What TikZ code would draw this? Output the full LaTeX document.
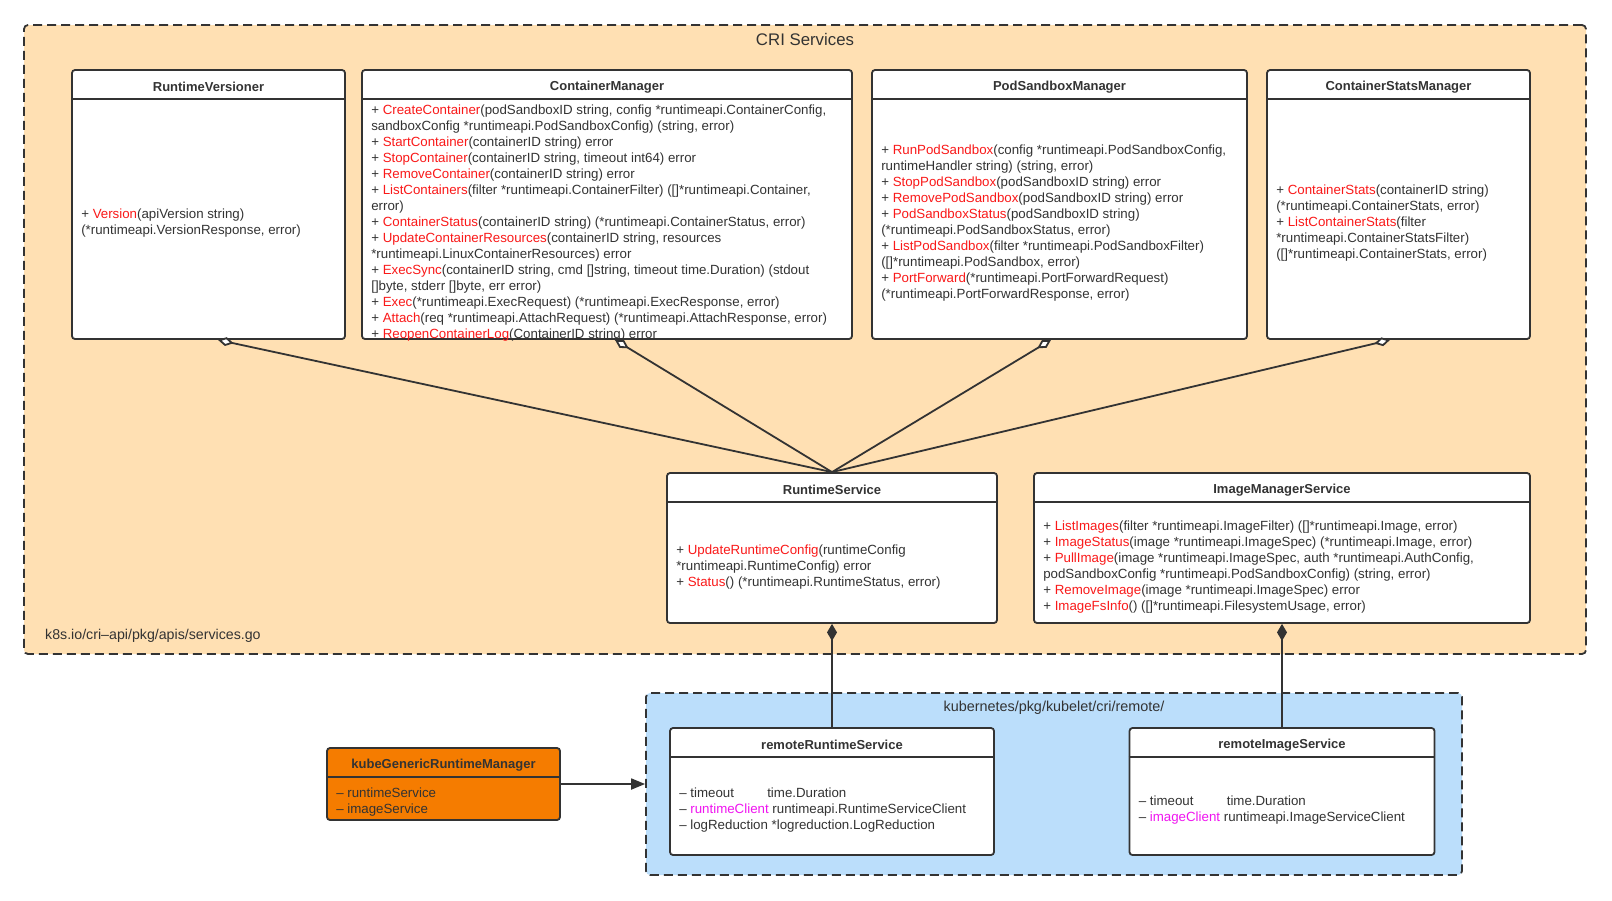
\documentclass[tikz,border=0pt]{standalone}
\usepackage{fontspec}
\setmainfont{Liberation Sans}
\usepackage{tikz}
\usetikzlibrary{arrows.meta,positioning}
\definecolor{crifill}{RGB}{255,224,179}
\definecolor{remotefill}{RGB}{187,222,251}
\definecolor{kgorange}{RGB}{245,124,0}
\definecolor{linegray}{RGB}{51,51,51}
\definecolor{fnred}{RGB}{250,25,25}
\definecolor{fldpink}{RGB}{240,20,240}
\newcommand{\mname}[1]{\textcolor{fnred}{#1}}
\newcommand{\fname}[1]{\textcolor{fldpink}{#1}}
\tikzstyle{pkgframe} = [draw=linegray, line width=1.8pt, dash pattern=on 9pt off 5pt, rounded corners=4pt, inner sep=0pt]
\tikzstyle{classbox} = [draw=linegray, line width=1.8pt, rounded corners=3pt, fill=white, inner sep=0pt]
\tikzstyle{classtitle} = [font=\fontsize{13}{16}\selectfont\bfseries, text=linegray]
\tikzstyle{classbody} = [font=\fontsize{13.3}{16}\selectfont, text=linegray, align=left, anchor=west, inner sep=0pt]
\tikzstyle{sepline} = [draw=linegray, line width=1.8pt]
\tikzstyle{aggr} = [line width=1.8pt, draw=linegray, -{Diamond[fill=white,length=16pt,width=9pt]}]
\tikzstyle{comp} = [line width=1.8pt, draw=linegray, -{Diamond[length=17pt,width=10pt]}]
\tikzstyle{dep} = [line width=1.8pt, draw=linegray, -{Triangle[length=14pt,width=11pt]}]

\begin{document}
\begin{tikzpicture}[x=1pt, y=-1pt]
\path[use as bounding box, fill=white] (0,0) rectangle (1612,900);

% package frames
\node[pkgframe, fill=crifill, minimum width=1562pt, minimum height=629pt] (cri) at (805,339.5) {};
\node[pkgframe, fill=remotefill, minimum width=816pt, minimum height=182pt] (remote) at (1054,784) {};
\node[font=\fontsize{16.8}{20}\selectfont, text=linegray] (crilabel) at ([yshift=-15pt]cri.north) {CRI Services};
\node[classbody, font=\fontsize{14.2}{16}\selectfont] (crifile) at (45,636) {k8s.io/cri–api/pkg/apis/services.go};
\node[font=\fontsize{14.4}{16}\selectfont, text=linegray] (remotelabel) at ([yshift=-16pt]remote.north) {kubernetes/pkg/kubelet/cri/remote/};

% CRI interfaces
\node[classbox, minimum width=273pt, minimum height=269pt] (rv) at (208.5,204.5) {};
\node[classbox, minimum width=490pt, minimum height=269pt] (cm) at (607,204.5) {};
\node[classbox, minimum width=375pt, minimum height=269pt] (psm) at (1059.5,204.5) {};
\node[classbox, minimum width=263pt, minimum height=269pt] (csm) at (1398.5,204.5) {};
\node[classbox, minimum width=330pt, minimum height=150pt] (rs) at (832,548) {};
\node[classbox, minimum width=496pt, minimum height=150pt] (ims) at (1282,548) {};
% remote implementations
\node[classbox, minimum width=324pt, minimum height=127pt] (rrs) at (832,791.5) {};
\node[classbox, minimum width=305pt, minimum height=127pt] (ris) at (1282,791.5) {};
% kubelet side
\node[classbox, fill=kgorange, minimum width=233pt, minimum height=72pt] (kg) at (443.5,784) {};

% headers
\foreach \b/\t in {rv/RuntimeVersioner, cm/ContainerManager, psm/PodSandboxManager, csm/ContainerStatsManager, rs/RuntimeService, ims/ImageManagerService, rrs/remoteRuntimeService, ris/remoteImageService, kg/kubeGenericRuntimeManager} {
  \draw[sepline] ([yshift=-30pt]\b.north west) -- ([yshift=-30pt]\b.north east);
  \node[classtitle] (\b-title) at ([yshift=-18pt]\b.north) {\t};
}

% members
\node[classbody] (rv-body) at ([xshift=10pt,yshift=-19pt]rv.west) {+ \mname{Version}(apiVersion string)\\(*runtimeapi.VersionResponse, error)};
\node[classbody] (cm-body) at ([xshift=10pt,yshift=-19pt]cm.west) {+ \mname{CreateContainer}(podSandboxID string, config *runtimeapi.ContainerConfig,\\
sandboxConfig *runtimeapi.PodSandboxConfig) (string, error)\\
+ \mname{StartContainer}(containerID string) error\\
+ \mname{StopContainer}(containerID string, timeout int64) error\\
+ \mname{RemoveContainer}(containerID string) error\\
+ \mname{ListContainers}(filter *runtimeapi.ContainerFilter) ([]*runtimeapi.Container,\\
error)\\
+ \mname{ContainerStatus}(containerID string) (*runtimeapi.ContainerStatus, error)\\
+ \mname{UpdateContainerResources}(containerID string, resources\\
{}*runtimeapi.LinuxContainerResources) error\\
+ \mname{ExecSync}(containerID string, cmd []string, timeout time.Duration) (stdout\\
{}[]byte, stderr []byte, err error)\\
+ \mname{Exec}(*runtimeapi.ExecRequest) (*runtimeapi.ExecResponse, error)\\
+ \mname{Attach}(req *runtimeapi.AttachRequest) (*runtimeapi.AttachResponse, error)\\
+ \mname{ReopenContainerLog}(ContainerID string) error};
\node[classbody] (psm-body) at ([xshift=10pt,yshift=-19pt]psm.west) {+ \mname{RunPodSandbox}(config *runtimeapi.PodSandboxConfig,\\
runtimeHandler string) (string, error)\\
+ \mname{StopPodSandbox}(podSandboxID string) error\\
+ \mname{RemovePodSandbox}(podSandboxID string) error\\
+ \mname{PodSandboxStatus}(podSandboxID string)\\
(*runtimeapi.PodSandboxStatus, error)\\
+ \mname{ListPodSandbox}(filter *runtimeapi.PodSandboxFilter)\\
([]*runtimeapi.PodSandbox, error)\\
+ \mname{PortForward}(*runtimeapi.PortForwardRequest)\\
(*runtimeapi.PortForwardResponse, error)};
\node[classbody] (csm-body) at ([xshift=10pt,yshift=-19pt]csm.west) {+ \mname{ContainerStats}(containerID string)\\
(*runtimeapi.ContainerStats, error)\\
+ \mname{ListContainerStats}(filter\\
{}*runtimeapi.ContainerStatsFilter)\\
([]*runtimeapi.ContainerStats, error)};
\node[classbody] (rs-body) at ([xshift=10pt,yshift=-19pt]rs.west) {+ \mname{UpdateRuntimeConfig}(runtimeConfig\\
{}*runtimeapi.RuntimeConfig) error\\
+ \mname{Status}() (*runtimeapi.RuntimeStatus, error)};
\node[classbody] (ims-body) at ([xshift=10pt,yshift=-19pt]ims.west) {+ \mname{ListImages}(filter *runtimeapi.ImageFilter) ([]*runtimeapi.Image, error)\\
+ \mname{ImageStatus}(image *runtimeapi.ImageSpec) (*runtimeapi.Image, error)\\
+ \mname{PullImage}(image *runtimeapi.ImageSpec, auth *runtimeapi.AuthConfig,\\
podSandboxConfig *runtimeapi.PodSandboxConfig) (string, error)\\
+ \mname{RemoveImage}(image *runtimeapi.ImageSpec) error\\
+ \mname{ImageFsInfo}() ([]*runtimeapi.FilesystemUsage, error)};
\node[classbody] (rrs-body) at ([xshift=10pt,yshift=-19pt]rrs.west) {\makebox[88pt][l]{– timeout}time.Duration\\
– \fname{runtimeClient} runtimeapi.RuntimeServiceClient\\
– logReduction *logreduction.LogReduction};
\node[classbody] (ris-body) at ([xshift=10pt,yshift=-19pt]ris.west) {\makebox[88pt][l]{– timeout}time.Duration\\
– \fname{imageClient} runtimeapi.ImageServiceClient};
\node[classbody] (kg-body) at ([xshift=10pt,yshift=-18pt]kg.west) {– runtimeService\\– imageService};

% aggregation into RuntimeService
\draw[aggr] (rs.north) -- ([xshift=9.5pt]rv.south);
\draw[aggr] (rs.north) -- ([xshift=8pt]cm.south);
\draw[aggr] (rs.north) -- ([xshift=-8.5pt]psm.south);
\draw[aggr] (rs.north) -- ([xshift=-8.5pt]csm.south);
% composition by the remote services
\draw[comp] (rrs.north) -- (rs.south);
\draw[comp] (ris.north) -- (ims.south);
% kubelet uses the remote package
\draw[dep] (kg.east) -- (kg.east -| remote.west);
\end{tikzpicture}
\end{document}
